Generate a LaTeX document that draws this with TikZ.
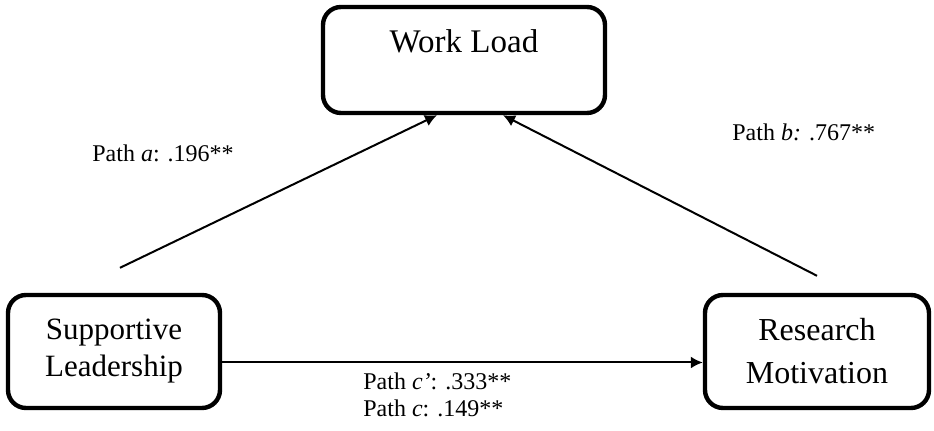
\documentclass[tikz,border=0pt]{standalone}
\usepackage{fontspec}
\setmainfont{Liberation Serif}
\usetikzlibrary{arrows.meta}
\begin{document}
\begin{tikzpicture}[>={Latex[length=6pt,width=6pt]}, x=0.5pt, y=-0.5pt,
    var/.style={draw, line width=2.2pt, rounded corners=9pt, inner sep=0pt, align=center},
    path label/.style={font=\fontsize{12}{13.5}\selectfont, anchor=base west, inner sep=0pt}]
\useasboundingbox (0,0) rectangle (934,431);
\node[var, minimum width=141pt, text height=23pt, text depth=30pt,
    font=\fontsize{16.5}{20}\selectfont] (wl) at (464,60) {Work Load};
\node[var, minimum width=106pt, minimum height=56.5pt,
    font=\fontsize{15.5}{18.5}\selectfont] (sl) at (114,351.5) {Supportive\\Leadership};
\node[var, minimum width=112pt, minimum height=56.5pt,
    font=\fontsize{16}{21.5}\selectfont] (rm) at (817,351.5) {Research\\Motivation};
\coordinate (sa) at ([xshift=3pt,yshift=12.5pt]sl.north);
\coordinate (sb) at ([yshift=8.5pt]rm.north);
\draw[->, line width=1pt] (sa) -- ([xshift=-13.5pt]wl.south);
\draw[->, line width=1pt] (sb) -- ([xshift=19.5pt]wl.south);
\draw[->, line width=1pt] ([yshift=-5.5pt]sl.east) -- ([yshift=-5.5pt]rm.west);
\node[path label] (pa) at (92,162) {Path \textit{a}: .196**};
\node[path label] (pb) at (732,141) {Path \textit{b:} .767**};
\node[path label] (pc1) at (363,390) {Path \textit{c'}: .333**};
\node[path label] (pc) at (363,417) {Path \textit{c}: .149**};
\end{tikzpicture}
\end{document}
